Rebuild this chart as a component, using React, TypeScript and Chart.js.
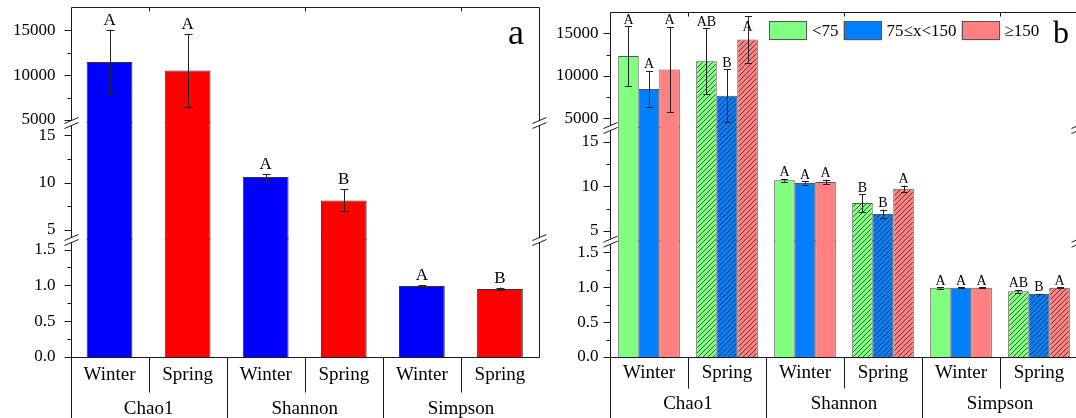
import React, { useEffect, useRef } from 'react';
import { Chart, registerables } from 'chart.js';

Chart.register(...registerables);

const FONT = "'Liberation Serif', 'Times New Roman', Times, serif";

// ---- categories ----
const groups = ['Chao1', 'Shannon', 'Simpson'];
const seasons = ['Winter', 'Spring', 'Winter', 'Spring', 'Winter', 'Spring'];

// ---- panel a (season) ----
const seasonMean = [11450, 10500, 10.58, 8.11, 0.99, 0.95];
const seasonErr = [3620, 4080, 0.3, 1.16, 0.01, 0.02];
const seasonLetters = ['A', 'A', 'A', 'B', 'A', 'B'];
const winterColor = '#0000ff';
const springColor = '#ff0000';

// ---- panel b (size classes) ----
const sizeClasses = ['<75', '75≤x<150', '≥150'];
const sizeColors = ['#80ff80', '#0080ff', '#ff8080'];
const smallMean = [12335, 11708, 10.67, 8.13, 0.99, 0.94];
const smallErr = [3510, 3900, 0.15, 0.98, 0.01, 0.02];
const smallLetters = ['A', 'AB', 'A', 'B', 'A', 'AB'];
const mediumMean = [8440, 7665, 10.37, 6.9, 0.99, 0.9];
const mediumErr = [2140, 3130, 0.2, 0.5, 0.005, 0.005];
const mediumLetters = ['A', 'B', 'A', 'B', 'A', 'B'];
const largeMean = [10740, 14283, 10.48, 9.74, 0.99, 0.99];
const largeErr = [5020, 2720, 0.25, 0.35, 0.005, 0.005];
const largeLetters = ['A', 'A', 'A', 'A', 'A', 'A'];

// ---- broken-axis segments (bottom, middle, top) ----
const segMinA = [0, 3.93, 4654];
const segMaxA = [1.634, 16.29, 17634];
const segMinB = [0, 3.8, 3859];
const segMaxB = [1.65, 16.53, 17540];
const segStep = [0.25, 2.5, 2500];
const segMajor = [0.5, 5, 5000];
const segDigits = [1, 0, 0];

const AXIS_IDS = ['yBot', 'yMid', 'yTop'];

function crisp(v: number) {
  return Math.round(v) + 0.5;
}

function makeHatch(color: string) {
  const c = document.createElement('canvas');
  const s = 5;
  c.width = s;
  c.height = s;
  const g = c.getContext('2d')!;
  g.fillStyle = color;
  g.fillRect(0, 0, s, s);
  g.strokeStyle = 'rgba(20,20,20,0.75)';
  g.lineWidth = 0.9;
  g.beginPath();
  g.moveTo(0, s);
  g.lineTo(s, 0);
  g.moveTo(-1, 1);
  g.lineTo(1, -1);
  g.moveTo(s - 1, s + 1);
  g.lineTo(s + 1, s - 1);
  g.stroke();
  return g.createPattern(c, 'repeat')!;
}

function zeroPad(sc: any) {
  sc.paddingTop = 0;
  sc.paddingBottom = 0;
  sc.paddingLeft = 0;
  sc.paddingRight = 0;
}

function buildChart(canvas: HTMLCanvasElement, spec: any) {
  const datasets: any[] = [];
  spec.series.forEach((ser: any, s: number) => {
    AXIS_IDS.forEach((id, k) => {
      const lo = k === 0 ? 0 : spec.segMin[k];
      const hi = spec.segMax[k];
      const over = k < 2 ? ((spec.segMax[k] - spec.segMin[k]) / spec.weights[k]) * 1.5 : 0;
      datasets.push({
        type: 'bar',
        label: ser.name + '|' + k,
        xAxisID: 'x',
        yAxisID: id,
        stack: 'g' + s,
        order: k,
        clip: false,
        data: ser.mean.map((v: number) => (v <= lo ? null : [lo, v > hi ? hi + over : v])),
        backgroundColor: (ctx: any) => ser.fill(ctx.dataIndex),
        borderColor: spec.barBorder,
        borderWidth: (ctx: any) => ({
          left: 1,
          right: 1,
          bottom: 0,
          top: ser.mean[ctx.dataIndex] <= hi ? 1 : 0,
        }),
        borderSkipped: false,
        categoryPercentage: spec.catPct,
        barPercentage: 1,
      });
    });
  });

  const scales: any = {
    x: {
      type: 'category',
      position: 'bottom',
      offset: true,
      grid: { display: false, drawTicks: false },
      border: { display: false },
      ticks: {
        color: '#000',
        font: { family: FONT, size: 19 },
        padding: spec.xPad,
        autoSkip: false,
        maxRotation: 0,
      },
      afterFit: (sc: any) => {
        sc.height = spec.xH;
        zeroPad(sc);
      },
    },
    x2: {
      type: 'category',
      position: 'bottom',
      labels: groups,
      offset: true,
      grid: { display: false, drawTicks: false },
      border: { display: false },
      ticks: {
        color: '#000',
        font: { family: FONT, size: 19 },
        padding: spec.x2Pad,
        autoSkip: false,
        maxRotation: 0,
      },
      afterFit: (sc: any) => {
        sc.height = spec.x2H;
        zeroPad(sc);
      },
    },
  };
  AXIS_IDS.forEach((id, k) => {
    scales[id] = {
      type: 'linear',
      position: 'left',
      stack: 'v',
      stackWeight: spec.weights[k],
      min: spec.segMin[k],
      max: spec.segMax[k],
      grid: { display: false, drawTicks: false },
      border: { display: false },
      ticks: { display: false, stepSize: segStep[k], includeBounds: false, autoSkip: false },
      afterFit: (sc: any) => {
        sc.width = spec.yW;
        zeroPad(sc);
      },
    };
  });

  const errorPlugin = {
    id: 'errs',
    afterDatasetsDraw(chart: any) {
      const ctx = chart.ctx;
      ctx.save();
      ctx.strokeStyle = '#222';
      ctx.lineWidth = 1;
      ctx.fillStyle = '#000';
      ctx.font = `${spec.letterSize}px ${FONT}`;
      ctx.textAlign = 'center';
      ctx.textBaseline = 'alphabetic';
      spec.series.forEach((ser: any, s: number) => {
        const meta = chart.getDatasetMeta(s * 3);
        ser.mean.forEach((v: number, i: number) => {
          const k = [0, 1, 2].find((j) => v >= spec.segMin[j] && v <= spec.segMax[j]);
          if (k === undefined) return;
          const sc = chart.scales[AXIS_IDS[k]];
          const el = meta.data[i];
          const x = crisp(el.x);
          const e = ser.err[i];
          const yHi = Math.max(sc.getPixelForValue(v + e), sc.top);
          const yLo = Math.min(sc.getPixelForValue(v - e), sc.bottom);
          const c = spec.capHalf;
          ctx.beginPath();
          ctx.moveTo(x, yHi);
          ctx.lineTo(x, yLo);
          ctx.moveTo(x - c, crisp(yHi));
          ctx.lineTo(x + c, crisp(yHi));
          ctx.moveTo(x - c, crisp(yLo));
          ctx.lineTo(x + c, crisp(yLo));
          ctx.stroke();
          const ly = yHi < chart.chartArea.top + 10 ? yHi + spec.letterSize + 1 : yHi - spec.letterGap;
          ctx.fillText(ser.letters[i], el.x, ly);
        });
      });
      ctx.restore();
    },
  };

  const framePlugin = {
    id: 'frame',
    afterDraw(chart: any) {
      const ctx = chart.ctx;
      const { left, right, top, bottom } = chart.chartArea;
      const H = chart.height;
      const xs = chart.scales.x;
      const breaks = [chart.scales.yTop.bottom, chart.scales.yMid.bottom];
      const L = crisp(left);
      const R = crisp(right);
      const T = crisp(top);
      const B = crisp(bottom);
      const gap = 2.5;
      ctx.save();
      ctx.strokeStyle = '#1a1a1a';
      ctx.lineWidth = 1;
      ctx.beginPath();
      ctx.moveTo(L, T);
      ctx.lineTo(R, T);
      ctx.moveTo(L, B);
      ctx.lineTo(R, B);
      const vWithGaps = (x: number, y1: number, y2: number) => {
        let y = y1;
        for (const b of breaks) {
          ctx.moveTo(x, y);
          ctx.lineTo(x, b - gap);
          y = b + gap;
        }
        ctx.moveTo(x, y);
        ctx.lineTo(x, y2);
      };
      vWithGaps(L, T, H);
      vWithGaps(R, T, B);
      for (const b of breaks)
        for (const x of [L, R])
          for (const o of [-gap, gap]) {
            ctx.moveTo(x - 7, b + o + 3);
            ctx.lineTo(x + 7, b + o - 3);
          }
      // y ticks + labels (values from each segment's own scale)
      ctx.fillStyle = '#000';
      ctx.font = `17px ${FONT}`;
      ctx.textAlign = 'right';
      ctx.textBaseline = 'middle';
      AXIS_IDS.forEach((id, k) => {
        const sc = chart.scales[id];
        const step = segStep[k];
        const per = Math.round(segMajor[k] / step);
        const n0 = Math.ceil(sc.min / step - 1e-9);
        const n1 = Math.floor(sc.max / step + 1e-9);
        for (let n = n0; n <= n1; n++) {
          const val = n * step;
          const p = sc.getPixelForValue(val);
          if (p < sc.top + 2.5) continue;
          const major = n % per === 0;
          const len = major ? 7 : 4;
          ctx.moveTo(L - len, crisp(p));
          ctx.lineTo(L, crisp(p));
          if (major) ctx.fillText(val.toFixed(segDigits[k]), L - spec.yPad, p);
        }
      });
      // top ticks at group centres
      for (let g = 0; g < groups.length; g++) {
        const gx = crisp((xs.getPixelForValue(2 * g) + xs.getPixelForValue(2 * g + 1)) / 2);
        ctx.moveTo(gx, T);
        ctx.lineTo(gx, T + 4);
      }
      // separators under axis
      for (let i = 1; i < seasons.length; i++) {
        const sx = crisp((xs.getPixelForValue(i - 1) + xs.getPixelForValue(i)) / 2);
        ctx.moveTo(sx, B);
        ctx.lineTo(sx, i % 2 === 0 ? H : B + spec.sepShort);
      }
      ctx.stroke();

      // panel letter
      ctx.font = `${spec.labelSize}px ${FONT}`;
      ctx.textAlign = 'left';
      ctx.textBaseline = 'alphabetic';
      ctx.fillText(spec.panelLabel, spec.labelX, spec.labelY);

      // legend
      if (spec.legend) {
        let lx = left + spec.legendDx;
        const ly = top + spec.legendDy;
        ctx.font = `17px ${FONT}`;
        ctx.textBaseline = 'middle';
        sizeClasses.forEach((name, s) => {
          ctx.fillStyle = sizeColors[s];
          ctx.fillRect(lx, ly, 38, 19);
          ctx.strokeStyle = '#555';
          ctx.strokeRect(Math.round(lx) + 0.5, Math.round(ly) + 0.5, 37, 18);
          ctx.fillStyle = '#000';
          ctx.fillText(name, lx + 43, ly + 10);
          lx += 43 + ctx.measureText(name).width + 5;
        });
      }
      ctx.restore();
    },
  };

  return new Chart(canvas, {
    type: 'bar',
    data: { labels: seasons, datasets },
    options: {
      responsive: false,
      animation: false,
      events: [],
      layout: { padding: spec.padding },
      plugins: { legend: { display: false }, tooltip: { enabled: false } },
      scales,
    },
    plugins: [errorPlugin, framePlugin],
  } as any);
}

export default function App() {
  const refA = useRef<HTMLCanvasElement>(null);
  const refB = useRef<HTMLCanvasElement>(null);

  useEffect(() => {
    const hatch = sizeColors.map(makeHatch);
    const specA = {
      series: [
        {
          name: 'season',
          mean: seasonMean,
          err: seasonErr,
          letters: seasonLetters,
          fill: (i: number) => (seasons[i] === 'Winter' ? winterColor : springColor),
        },
      ],
      segMin: segMinA,
      segMax: segMaxA,
      weights: [117, 117, 116.3],
      catPct: 0.586,
      barBorder: '#333',
      yW: 70.5,
      yPad: 16,
      xH: 35,
      x2H: 26,
      xPad: 7,
      x2Pad: 6,
      padding: { left: 0, right: 21, top: 6.7, bottom: 0 },
      letterSize: 17,
      letterGap: 5,
      capHalf: 4,
      sepShort: 35,
      panelLabel: 'a',
      labelX: 508,
      labelY: 44,
      labelSize: 36,
      legend: false,
    };
    const names = ['small', 'medium', 'large'];
    const means = [smallMean, mediumMean, largeMean];
    const errs = [smallErr, mediumErr, largeErr];
    const letters = [smallLetters, mediumLetters, largeLetters];
    const specB = {
      series: names.map((n, s) => ({
        name: n,
        mean: means[s],
        err: errs[s],
        letters: letters[s],
        fill: (i: number) => (seasons[i] === 'Spring' ? hatch[s] : sizeColors[s]),
      })),
      segMin: segMinB,
      segMax: segMaxB,
      weights: [115.3, 113.7, 116.3],
      catPct: 0.79,
      barBorder: '#555',
      yW: 70,
      yPad: 12,
      xH: 31,
      x2H: 30,
      xPad: 5,
      x2Pad: 5,
      padding: { left: 0, right: 12, top: 11.7, bottom: 0 },
      letterSize: 14,
      letterGap: 2.5,
      capHalf: 3.5,
      sepShort: 31,
      panelLabel: 'b',
      labelX: 513,
      labelY: 43,
      labelSize: 32,
      legend: true,
      legendDx: 159,
      legendDy: 9.5,
    };
    const ca = buildChart(refA.current!, specA);
    const cb = buildChart(refB.current!, specB);
    return () => {
      ca.destroy();
      cb.destroy();
    };
  }, []);

  return (
    <div
      style={{
        position: 'fixed',
        left: 0,
        top: 0,
        width: 1076,
        height: 418,
        overflow: 'hidden',
        background: '#fff',
      }}
    >
      <canvas
        ref={refA}
        width={560}
        height={418}
        style={{ position: 'absolute', left: 0, top: 0, width: 560, height: 418 }}
      />
      <canvas
        ref={refB}
        width={550}
        height={418}
        style={{ position: 'absolute', left: 540, top: 0, width: 550, height: 418 }}
      />
    </div>
  );
}
